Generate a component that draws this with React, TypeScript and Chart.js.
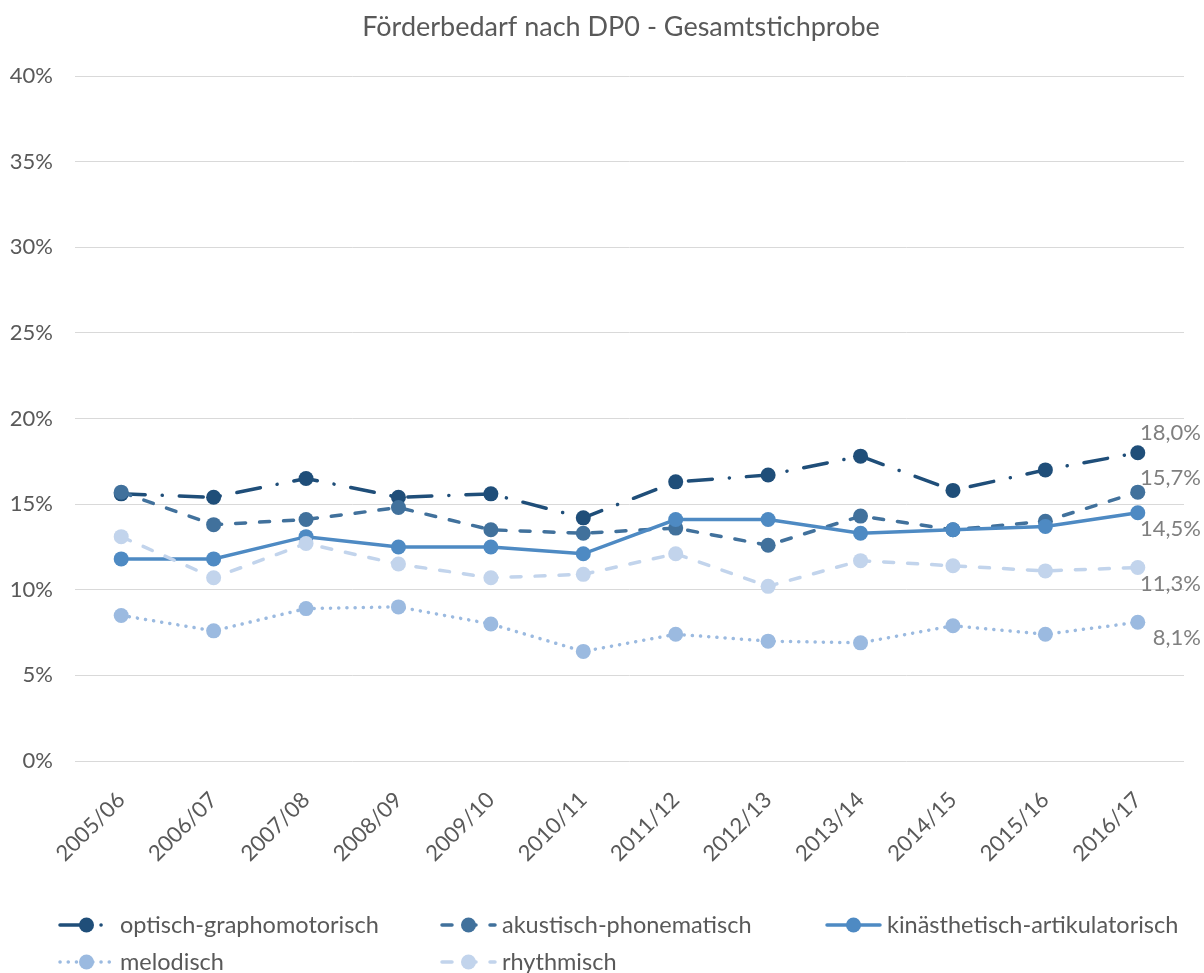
import React, { useEffect, useRef } from "react";
import { Chart, registerables } from "chart.js";

Chart.register(...registerables);

const TITLE = "Förderbedarf nach DP0 - Gesamtstichprobe";
const categories = ["2005/06", "2006/07", "2007/08", "2008/09", "2009/10", "2010/11", "2011/12", "2012/13", "2013/14", "2014/15", "2015/16", "2016/17"];
const seriesNames = ["optisch-graphomotorisch", "akustisch-phonematisch", "kinästhetisch-artikulatorisch", "melodisch", "rhythmisch"];
const optisch = [15.6, 15.4, 16.5, 15.4, 15.6, 14.2, 16.3, 16.7, 17.8, 15.8, 17.0, 18.0];
const akustisch = [15.7, 13.8, 14.1, 14.8, 13.5, 13.3, 13.6, 12.6, 14.3, 13.5, 14.0, 15.7];
const kinaesthetisch = [11.8, 11.8, 13.1, 12.5, 12.5, 12.1, 14.1, 14.1, 13.3, 13.5, 13.7, 14.5];
const melodisch = [8.5, 7.6, 8.9, 9.0, 8.0, 6.4, 7.4, 7.0, 6.9, 7.9, 7.4, 8.1];
const rhythmisch = [13.1, 10.7, 12.7, 11.5, 10.7, 10.9, 12.1, 10.2, 11.7, 11.4, 11.1, 11.3];
const yTicks = [0, 5, 10, 15, 20, 25, 30, 35, 40];

const colors = ["#1F4E79", "#41719C", "#4E8AC3", "#9BBAE0", "#C2D4EC"];
const dashes: number[][] = [[24, 17, 0.1, 17], [10, 14], [], [0.1, 8.1], [10, 14]];
const caps = ["round", "round", "round", "round", "round"];
const FONT = "Lato, 'Open Sans', sans-serif";
const TEXT = "#595959";

const titlePlugin = {
  id: "customTitle",
  afterDraw(chart: any) {
    const ctx = chart.ctx;
    ctx.save();
    ctx.font = `27px ${FONT}`;
    ctx.fillStyle = TEXT;
    ctx.textAlign = "center";
    ctx.textBaseline = "middle";
    ctx.fillText(TITLE, 621, 27);
    ctx.restore();
  },
};

const labelOffsets = [-20, -14, 16, 16, 16];
const endLabelPlugin = {
  id: "endLabels",
  afterDatasetsDraw(chart: any) {
    const ctx = chart.ctx;
    ctx.save();
    ctx.font = `22px ${FONT}`;
    ctx.fillStyle = "#7F7F7F";
    ctx.textAlign = "right";
    ctx.textBaseline = "middle";
    chart.data.datasets.forEach((ds: any, i: number) => {
      const meta = chart.getDatasetMeta(i);
      const last = meta.data[meta.data.length - 1];
      const v = ds.data[ds.data.length - 1];
      const txt = v.toFixed(1).replace(".", ",") + "%";
      ctx.fillText(txt, chart.chartArea.right + 17, last.y + labelOffsets[i]);
    });
    ctx.restore();
  },
};

const legendCols = [58, 440, 825];
const legendRows = [925, 962];
const legendPlugin = {
  id: "customLegend",
  afterDraw(chart: any) {
    const ctx = chart.ctx;
    ctx.save();
    chart.data.datasets.forEach((ds: any, i: number) => {
      const x0 = legendCols[i % 3];
      const y = legendRows[Math.floor(i / 3)];
      ctx.strokeStyle = ds.borderColor;
      ctx.lineWidth = ds.borderWidth;
      ctx.lineCap = ds.borderCapStyle;
      ctx.setLineDash(ds.borderDash);
      ctx.beginPath();
      ctx.moveTo(x0 + 2, y);
      ctx.lineTo(x0 + 55, y);
      ctx.stroke();
      ctx.setLineDash([]);
      ctx.fillStyle = ds.pointBackgroundColor;
      ctx.beginPath();
      ctx.arc(x0 + 28.5, y, ds.pointRadius, 0, Math.PI * 2);
      ctx.fill();
      ctx.font = `23.5px ${FONT}`;
      ctx.fillStyle = TEXT;
      ctx.textAlign = "left";
      ctx.textBaseline = "middle";
      ctx.fillText(ds.label, x0 + 62, y);
    });
    ctx.restore();
  },
};

export default function App() {
  const ref = useRef<HTMLCanvasElement>(null);
  useEffect(() => {
    const values = [optisch, akustisch, kinaesthetisch, melodisch, rhythmisch];
    const chart = new Chart(ref.current as HTMLCanvasElement, {
      type: "line",
      data: {
        labels: categories,
        datasets: values.map((d, i) => ({
          label: seriesNames[i],
          data: d,
          borderColor: colors[i],
          backgroundColor: colors[i],
          pointBackgroundColor: colors[i],
          pointBorderColor: colors[i],
          pointBorderWidth: 0,
          pointRadius: 7.5,
          borderWidth: 3.5,
          borderDash: dashes[i],
          borderCapStyle: caps[i] as any,
          tension: 0,
          fill: false,
          order: 4 - i,
        })),
      },
      options: {
        responsive: false,
        animation: false,
        devicePixelRatio: 1,
        events: [],
        layout: { padding: { top: 76, right: 20, bottom: 0, left: 0 } },
        plugins: {
          legend: { display: false },
          title: { display: false },
          tooltip: { enabled: false },
        },
        scales: {
          x: {
            offset: true,
            grid: { display: false },
            border: { display: false },
            ticks: {
              autoSkip: false,
              maxRotation: 45,
              minRotation: 45,
              padding: 18,
              color: TEXT,
              font: { family: FONT, size: 22 },
            },
            afterFit(scale: any) {
              scale.height = 212;
            },
          },
          y: {
            min: 0,
            max: 40,
            afterBuildTicks(scale: any) {
              scale.ticks = yTicks.map((v) => ({ value: v }));
            },
            grid: { color: "#D9D9D9", lineWidth: 1, drawTicks: false },
            border: { display: false },
            ticks: {
              padding: 22,
              color: TEXT,
              font: { family: FONT, size: 22 },
              callback: (v: any) => `${v}%`,
            },
            afterFit(scale: any) {
              scale.width = 75;
            },
          },
        },
      },
      plugins: [titlePlugin, endLabelPlugin, legendPlugin],
    });
    return () => chart.destroy();
  }, []);
  return (
    <div style={{ position: "absolute", left: 0, top: 0, width: 1204, height: 973, background: "#fff" }}>
      <canvas ref={ref} width={1204} height={973} style={{ display: "block" }} />
    </div>
  );
}
